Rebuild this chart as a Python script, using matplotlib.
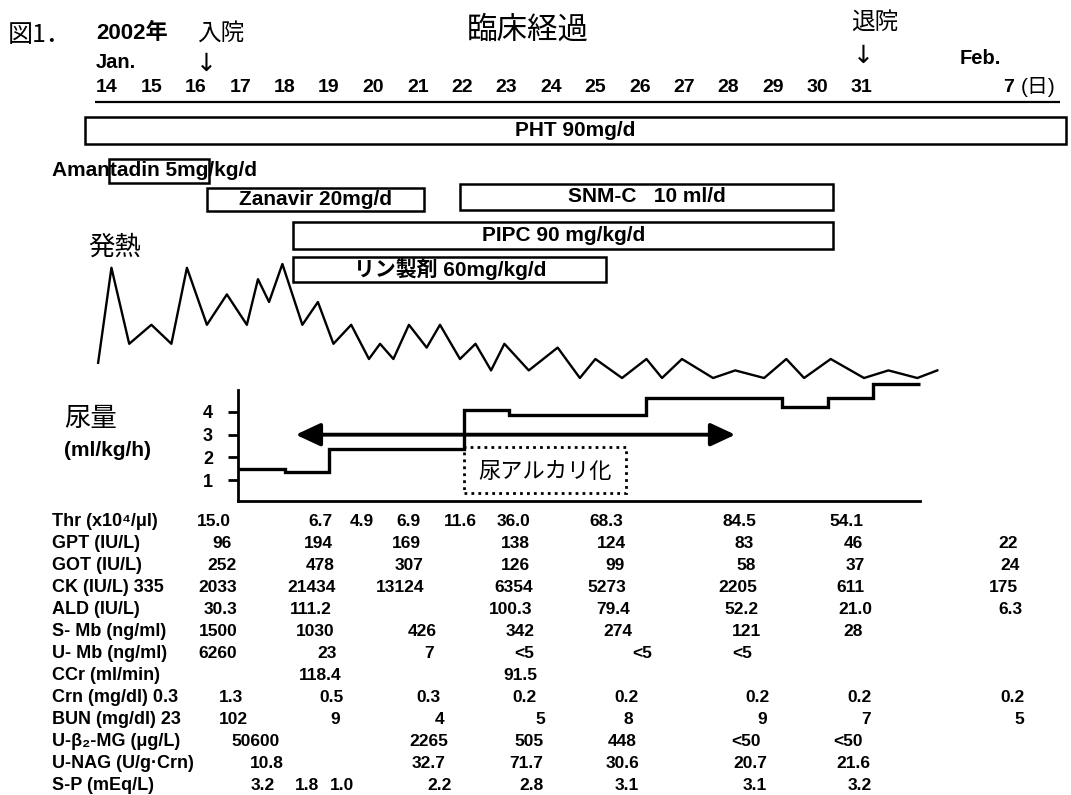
import matplotlib
matplotlib.use('Agg')
import matplotlib.pyplot as plt
from matplotlib.patches import Rectangle

plt.rcParams['font.family'] = ['Liberation Sans', 'Noto Sans CJK JP', 'DejaVu Sans']
JP = ['Noto Sans CJK JP', 'DejaVu Sans']

# eixo de dias (Jan 14 .. 31, depois Feb 7 comprimido)
jan_days = list(range(14, 32))
feb7_pos = 34.3
admit_day = 16
discharge_day = 31

# medicamentos: nome, início, fim
drug_names = ['PHT 90mg/d', 'Amantadin 5mg/kg/d', 'Zanavir 20mg/d',
              'SNM-C   10 ml/d', 'PIPC 90 mg/kg/d', 'リン製剤 60mg/kg/d']
drug_start = [13.5, 14.05, 16.25, 21.95, 18.2, 18.2]
drug_end = [35.6, 16.3, 21.15, 30.35, 30.35, 25.25]

# febre (2x por dia)
fever_days = [13.8, 14.1, 14.5, 15.0, 15.45, 15.8, 16.25, 16.7, 17.15, 17.4,
              17.65, 17.95, 18.4, 18.75, 19.1, 19.5, 19.9, 20.15, 20.45, 20.8,
              21.2, 21.5, 21.95, 22.3, 22.65, 22.95, 23.5, 24.15, 24.65, 25.0,
              25.6, 26.15, 26.5, 26.95, 27.65, 28.15, 28.8, 29.3, 29.7, 30.3,
              31.05, 31.6, 32.25, 32.7]
fever_temps = [37.4, 39.9, 37.9, 38.4, 37.9, 39.9, 38.4, 39.2, 38.4, 39.6,
               39.0, 40.0, 38.4, 39.0, 37.9, 38.4, 37.5, 37.9, 37.5, 38.4,
               37.8, 38.4, 37.5, 37.9, 37.2, 37.9, 37.2, 37.8, 37.0, 37.5,
               37.0, 37.5, 37.0, 37.5, 37.0, 37.2, 37.0, 37.5, 37.0, 37.5,
               37.0, 37.2, 37.0, 37.2]

# volume urinário (ml/kg/h)
urine_edges = [16.95, 18.0, 19.0, 22.05, 23.05, 26.15, 29.2, 30.25, 31.25, 32.3]
urine_vals = [1.5, 1.35, 2.35, 4.1, 3.85, 4.6, 4.2, 4.6, 5.25]
hydration_start, hydration_end, hydration_level = 18.25, 28.15, 3.0
alk_start, alk_end, alk_top = 22.05, 25.7, 2.44

# tabela de exames
row_labels = ['Thr (x10⁴/μl)', 'GPT (IU/L)', 'GOT (IU/L)', 'CK (IU/L) 335',
              'ALD (IU/L)', 'S- Mb (ng/ml)', 'U- Mb (ng/ml)', 'CCr (ml/min)',
              'Crn (mg/dl) 0.3', 'BUN (mg/dl) 23', 'U-β₂-MG (μg/L)',
              'U-NAG (U/g·Crn)', 'S-P (mEq/L)']
thr_days = [16.4, 18.8, 19.75, 20.8, 21.95, 23.15, 25.25, 28.25, 30.65]
thr_vals = ['15.0', '6.7', '4.9', '6.9', '11.6', '36.0', '68.3', '84.5', '54.1']
gpt_days = [16.6, 18.75, 20.75, 23.2, 25.35, 28.35, 30.8, 34.3]
gpt_vals = ['96', '194', '169', '138', '124', '83', '46', '22']
got_days = [16.6, 18.8, 20.8, 23.2, 25.45, 28.4, 30.85, 34.35]
got_vals = ['252', '478', '307', '126', '99', '58', '37', '24']
ck_days = [16.5, 18.6, 20.6, 23.15, 25.25, 28.2, 30.75, 34.2]
ck_vals = ['2033', '21434', '13124', '6354', '5273', '2205', '611', '175']
ald_days = [16.55, 18.6, 23.1, 25.4, 28.3, 30.85, 34.35]
ald_vals = ['30.3', '111.2', '100.3', '79.4', '52.2', '21.0', '6.3']
smb_days = [16.5, 18.7, 21.1, 23.3, 25.5, 28.4, 30.8]
smb_vals = ['1500', '1030', '426', '342', '274', '121', '28']
umb_days = [16.5, 18.95, 21.25, 23.4, 26.05, 28.3]
umb_vals = ['6260', '23', '7', '<5', '<5', '<5']
ccr_days = [18.8, 23.3]
ccr_vals = ['118.4', '91.5']
crn_days = [16.8, 19.05, 21.25, 23.4, 25.7, 28.65, 30.95, 34.4]
crn_vals = ['1.3', '0.5', '0.3', '0.2', '0.2', '0.2', '0.2', '0.2']
bun_days = [16.85, 19.15, 21.5, 23.75, 25.75, 28.75, 31.1, 34.55]
bun_vals = ['102', '9', '4', '5', '8', '9', '7', '5']
b2mg_days = [17.35, 21.25, 23.5, 25.6, 28.4, 30.7]
b2mg_vals = ['50600', '2265', '505', '448', '<50', '<50']
nag_days = [17.6, 21.25, 23.45, 25.6, 28.5, 30.8]
nag_vals = ['10.8', '32.7', '71.7', '30.6', '20.7', '21.6']
sp_days = [17.5, 18.5, 19.3, 21.5, 23.55, 25.7, 28.6, 30.95]
sp_vals = ['3.2', '1.8', '1.0', '2.2', '2.8', '3.1', '3.1', '3.2']

table_days = [thr_days, gpt_days, got_days, ck_days, ald_days, smb_days, umb_days,
              ccr_days, crn_days, bun_days, b2mg_days, nag_days, sp_days]
table_vals = [thr_vals, gpt_vals, got_vals, ck_vals, ald_vals, smb_vals, umb_vals,
              ccr_vals, crn_vals, bun_vals, b2mg_vals, nag_vals, sp_vals]

# ---- layout (pixels) ----
W, H = 1071, 795
PX_PER_DAY = 44.4
X0 = 14 - 107 / PX_PER_DAY
X1 = X0 + W / PX_PER_DAY


def fx(px):
    return px / W


def fy(py):
    return 1 - py / H


def band_axes(top, bottom):
    a = fig.add_axes([0, fy(bottom), 1, (bottom - top) / H])
    a.set_xlim(X0, X1)
    a.patch.set_visible(False)
    return a


fig = plt.figure(figsize=(W / 100, H / 100), dpi=100)
fig.patch.set_facecolor('white')

ax = fig.add_axes([0, 0, 1, 1])
ax.set_xlim(X0, X1)
ax.set_ylim(H, 0)
ax.axis('off')

# cabeçalho
fig.text(fx(8), fy(35), '図1．', fontsize=18, family=JP, va='center')
fig.text(fx(96), fy(33), '2002年', fontsize=16, fontweight='bold', va='center')
fig.text(fx(96), fy(62), 'Jan.', fontsize=14.5, fontweight='bold', va='center')
ax.text(admit_day + 0.24, 64, '↓', fontsize=18, family='DejaVu Sans', ha='center', va='center')
ax.text(admit_day + 0.03, 33, '入院', fontsize=17, family=JP, ha='left', va='center')
ax.text(discharge_day + 0.03, 56, '↓', fontsize=18, family='DejaVu Sans', ha='center', va='center')
ax.text(discharge_day + 0.3, 22, '退院', fontsize=17, family=JP, ha='center', va='center')
ax.text(33.2, 58, 'Feb.', fontsize=14.5, fontweight='bold', ha='left', va='center')
fig.text(fx(528), fy(30), '臨床経過', fontsize=22, family=JP, ha='center', va='center')

for d in jan_days:
    ax.text(d, 87, str(d), fontsize=14, fontweight='bold', ha='center', va='center')
ax.text(feb7_pos, 87, '7', fontsize=14, fontweight='bold', ha='center', va='center')
ax.text(feb7_pos + 0.27, 87, '(日)', fontsize=15, ha='left', va='center')
ax.hlines(102, 13.73, 35.47, color='black', lw=1.6)

# medicamentos
drug_rows = [(117, 144), (159, 183), (188, 211), (184, 210), (222, 249), (257, 282)]
for i, nome in enumerate(drug_names):
    top, bot = drug_rows[i]
    ax.add_patch(Rectangle((drug_start[i], top), drug_end[i] - drug_start[i], bot - top,
                           fill=False, ec='black', lw=1.8))
    if i == 1:
        fig.text(fx(52), fy((top + bot) / 2), nome, fontsize=15, fontweight='bold',
                 ha='left', va='center')
    else:
        ax.text((drug_start[i] + drug_end[i]) / 2, (top + bot) / 2, nome, fontsize=15,
                fontweight='bold', ha='center', va='center')

# febre
fig.text(fx(115), fy(247), '発熱', fontsize=19, family=JP, ha='center', va='center')
ax_f = band_axes(250, 395)
ax_f.set_ylim(36.553, 40.368)
ax_f.plot(fever_days, fever_temps, color='black', lw=1.7)
ax_f.axis('off')

# volume urinário
fig.text(fx(64), fy(419), '尿量', fontsize=19, family=JP, ha='left', va='center')
fig.text(fx(64), fy(451), '(ml/kg/h)', fontsize=15, fontweight='bold', ha='left', va='center')
ax_u = band_axes(380, 500.5)
ax_u.set_ylim(0.1, 5.41)
ax_u.stairs(urine_vals, urine_edges, baseline=None, color='black', lw=2.4)
ax_u.annotate('', xy=(hydration_start, hydration_level), xytext=(hydration_end, hydration_level),
              arrowprops=dict(arrowstyle='<|-|>,head_length=0.75,head_width=0.35',
                              mutation_scale=20, color='black', lw=2.8,
                              shrinkA=0, shrinkB=0))
ax_u.add_patch(Rectangle((alk_start, 0.42), alk_end - alk_start, alk_top - 0.42,
                         fill=False, ec='black', lw=2, ls=(0, (1, 1.5))))
ax_u.text((alk_start + alk_end) / 2, 1.38, '尿アルカリ化', fontsize=16, family=JP,
          ha='center', va='center')
for s in ['top', 'right']:
    ax_u.spines[s].set_visible(False)
ax_u.spines['left'].set_position(('data', urine_edges[0]))
ax_u.spines['left'].set_bounds(0.1, 4.97)
ax_u.spines['bottom'].set_bounds(urine_edges[0], urine_edges[-1])
ax_u.spines['left'].set_linewidth(2)
ax_u.spines['bottom'].set_linewidth(2)
ax_u.set_xticks([])
ax_u.set_yticks([1, 2, 3, 4])
ax_u.set_yticklabels(['1', '2', '3', '4'], fontsize=13, fontweight='bold')
ax_u.tick_params(axis='y', length=7, width=2, pad=11)

# tabela
for i, rotulo in enumerate(row_labels):
    y = 522 + 22 * i
    fig.text(fx(52), fy(y), rotulo, fontsize=13, fontweight='bold', ha='left', va='center')
    for d, v in zip(table_days[i], table_vals[i]):
        ax.text(d, y, v, fontsize=12.5, fontweight='bold', ha='center', va='center')

fig.savefig('out.png', dpi=100, facecolor='white')
